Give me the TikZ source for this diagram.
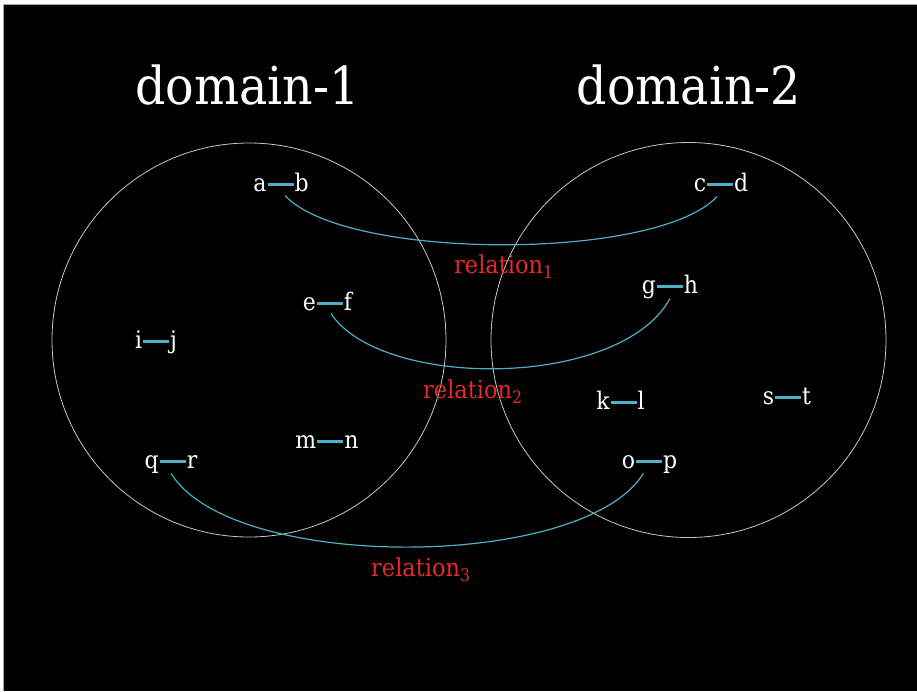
\documentclass[tikz,border=0pt]{standalone}
\usepackage{fontspec}
\setmainfont{DejaVu Serif}
\definecolor{linkcyan}{RGB}{78,176,196}
\definecolor{relred}{RGB}{228,42,42}
\definecolor{circgrey}{RGB}{200,200,200}
\newcommand{\pairdash}{\kern1pt\textcolor{linkcyan}{\rule[5pt]{26pt}{2pt}}\kern1pt}
\newcommand{\tallish}[1]{\scalebox{1}[1.1]{#1}}
\begin{document}
\begin{tikzpicture}[x=1pt,y=-1pt,
  titletext/.style={text=white,font=\fontsize{47.5}{50}\selectfont,anchor=base,inner sep=0pt},
  pairtext/.style={text=white,font=\fontsize{22}{24}\selectfont,anchor=base,inner sep=0pt},
  reltext/.style={text=relred,font=\fontsize{22.5}{24}\selectfont,anchor=base west,inner sep=0pt},
  domcircle/.style={draw=circgrey,line width=0.8pt},
  linkcurve/.style={draw=linkcyan,line width=1.2pt}]
\useasboundingbox (0,0) rectangle (917,691);
\fill[white] (0,0) rectangle (917,691);
\fill[black] (3,4) rectangle (917,691);
\draw[gray!70,line width=1pt] (3,691) -- (3,4) -- (917,4);

\node[domcircle,circle,minimum size=394pt,inner sep=0pt] (d1) at (249,340) {};
\node[domcircle,circle,minimum size=395pt,inner sep=0pt] (d2) at (688.5,340) {};

\node[titletext] (t1) at (247.5,104) {\tallish{domain-1}};
\node[titletext] (t2) at (689,104) {\tallish{domain-2}};

\node[pairtext] (ab) at (281,191) {\tallish{a\pairdash b}};
\node[pairtext] (cd) at (721,191) {\tallish{c\pairdash d}};
\node[pairtext] (ef) at (327.5,310) {\tallish{e\pairdash f}};
\node[pairtext] (gh) at (670,293) {\tallish{g\pairdash h}};
\node[pairtext] (ij) at (156,348) {\tallish{i\pairdash j}};
\node[pairtext] (kl) at (620.5,409) {\tallish{k\pairdash l}};
\node[pairtext] (st) at (787,404) {\tallish{s\pairdash t}};
\node[pairtext] (mn) at (327,448) {\tallish{m\pairdash n}};
\node[pairtext] (qr) at (171,468) {\tallish{q\pairdash r}};
\node[pairtext] (op) at (649.5,468) {\tallish{o\pairdash p}};

\node[reltext] (r1) at (454,273) {\tallish{relation\textsubscript{1}}};
\node[reltext] (r2) at (423,398) {\tallish{relation\textsubscript{2}}};
\node[reltext] (r3) at (371,576) {\tallish{relation\textsubscript{3}}};

\draw[linkcurve] ([xshift=4pt,yshift=-4pt]ab.south) .. controls +(60,65) and +(-60,65) .. ([xshift=-4pt,yshift=-5pt]cd.south);
\draw[linkcurve] ([xshift=3.5pt,yshift=-3pt]ef.south) .. controls +(50,76) and +(-50,91) .. (gh.south);
\draw[linkcurve] (qr.south) .. controls +(60,99) and +(-60,98) .. ([xshift=-6pt]op.south);
\end{tikzpicture}
\end{document}
